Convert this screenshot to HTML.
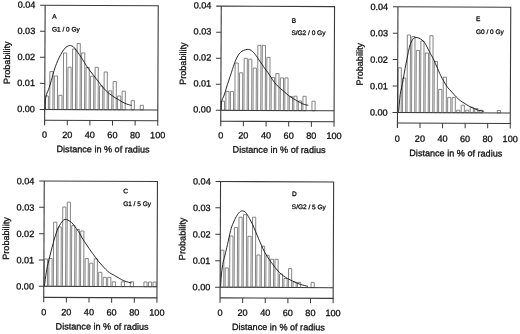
<!DOCTYPE html>
<html><head><meta charset="utf-8">
<style>
html,body{margin:0;padding:0;background:#fff;}
body{width:520px;height:334px;overflow:hidden;}
svg{display:block;will-change:transform;}
text{font-family:"Liberation Sans", sans-serif;fill:#111;stroke:#111;stroke-width:0.3px;}
text.s{stroke-width:0.3px;}
</style></head><body>
<svg width="520" height="334" viewBox="0 0 520 334">
<rect width="520" height="334" fill="#fff"/>
<g transform="rotate(0.250 101.45 62.95)">
<rect x="45.40" y="96.24" width="3.17" height="13.46" fill="#fff" stroke="#777777" stroke-width="0.9"/>
<rect x="49.92" y="71.82" width="3.17" height="37.88" fill="#fff" stroke="#777777" stroke-width="0.9"/>
<rect x="54.45" y="76.20" width="3.17" height="33.50" fill="#fff" stroke="#777777" stroke-width="0.9"/>
<rect x="58.97" y="95.48" width="3.17" height="14.22" fill="#fff" stroke="#777777" stroke-width="0.9"/>
<rect x="63.50" y="53.16" width="3.17" height="56.54" fill="#fff" stroke="#777777" stroke-width="0.9"/>
<rect x="68.02" y="67.34" width="3.17" height="42.36" fill="#fff" stroke="#777777" stroke-width="0.9"/>
<rect x="72.54" y="49.12" width="3.17" height="60.58" fill="#fff" stroke="#777777" stroke-width="0.9"/>
<rect x="77.07" y="43.60" width="3.17" height="66.10" fill="#fff" stroke="#777777" stroke-width="0.9"/>
<rect x="81.59" y="52.98" width="3.17" height="56.72" fill="#fff" stroke="#777777" stroke-width="0.9"/>
<rect x="86.12" y="67.56" width="3.17" height="42.14" fill="#fff" stroke="#777777" stroke-width="0.9"/>
<rect x="90.64" y="76.24" width="3.17" height="33.46" fill="#fff" stroke="#777777" stroke-width="0.9"/>
<rect x="95.16" y="67.32" width="3.17" height="42.38" fill="#fff" stroke="#777777" stroke-width="0.9"/>
<rect x="99.69" y="86.00" width="3.17" height="23.70" fill="#fff" stroke="#777777" stroke-width="0.9"/>
<rect x="104.21" y="71.98" width="3.17" height="37.72" fill="#fff" stroke="#777777" stroke-width="0.9"/>
<rect x="108.74" y="90.86" width="3.17" height="18.84" fill="#fff" stroke="#777777" stroke-width="0.9"/>
<rect x="113.26" y="81.44" width="3.17" height="28.26" fill="#fff" stroke="#777777" stroke-width="0.9"/>
<rect x="117.78" y="95.92" width="3.17" height="13.78" fill="#fff" stroke="#777777" stroke-width="0.9"/>
<rect x="122.31" y="91.10" width="3.17" height="18.60" fill="#fff" stroke="#777777" stroke-width="0.9"/>
<rect x="131.36" y="100.46" width="3.17" height="9.24" fill="#fff" stroke="#777777" stroke-width="0.9"/>
<rect x="140.40" y="105.12" width="3.17" height="4.58" fill="#fff" stroke="#777777" stroke-width="0.9"/>
<path d="M45.40 109.24 C45.41 108.24 45.42 104.99 45.48 103.24 C45.53 101.49 45.56 100.16 45.76 98.74 C45.95 97.33 46.29 95.91 46.64 94.74 C46.98 93.57 47.38 92.90 47.83 91.73 C48.27 90.57 48.83 89.15 49.31 87.73 C49.78 86.31 50.23 84.81 50.69 83.22 C51.15 81.64 51.49 80.30 52.07 78.22 C52.64 76.13 53.38 73.14 54.13 70.71 C54.89 68.27 55.78 65.73 56.60 63.60 C57.43 61.46 58.15 59.77 59.08 57.88 C60.00 56.00 61.11 53.94 62.15 52.27 C63.20 50.60 64.29 48.91 65.33 47.86 C66.38 46.80 67.58 46.30 68.43 45.94 C69.27 45.59 69.64 45.61 70.42 45.74 C71.21 45.87 72.18 45.96 73.13 46.72 C74.08 47.49 75.14 49.01 76.14 50.31 C77.15 51.61 78.06 52.90 79.16 54.50 C80.27 56.09 81.58 58.00 82.79 59.88 C83.99 61.76 85.20 63.94 86.41 65.77 C87.62 67.59 88.83 69.24 90.03 70.85 C91.24 72.46 92.45 73.91 93.65 75.43 C94.86 76.96 96.07 78.46 97.27 80.02 C98.48 81.58 99.69 83.31 100.90 84.80 C102.10 86.30 103.31 87.69 104.51 88.99 C105.72 90.28 106.92 91.53 108.13 92.57 C109.33 93.62 110.55 94.41 111.74 95.26 C112.93 96.10 114.10 96.93 115.25 97.64 C116.40 98.35 117.41 98.78 118.66 99.53 C119.91 100.27 121.37 101.36 122.77 102.11 C124.17 102.85 125.58 103.45 127.08 103.99 C128.58 104.53 131.00 105.14 131.79 105.37" fill="none" stroke="#111" stroke-width="0.9"/>
<path d="M39.90 5.45 H158.00 V120.45 H44.90" fill="none" stroke="#3a3a3a" stroke-width="1.1"/>
<path d="M44.90 5.45 V125.45" fill="none" stroke="#3a3a3a" stroke-width="1.1"/>
<path d="M39.90 109.70 H158.00" fill="none" stroke="#3a3a3a" stroke-width="1.0"/>
<path d="M39.90 83.64 H44.90" stroke="#3a3a3a" stroke-width="1"/>
<path d="M39.90 57.58 H44.90" stroke="#3a3a3a" stroke-width="1"/>
<path d="M39.90 31.51 H44.90" stroke="#3a3a3a" stroke-width="1"/>
<path d="M67.52 120.45 V125.45" stroke="#3a3a3a" stroke-width="1"/>
<path d="M90.14 120.45 V125.45" stroke="#3a3a3a" stroke-width="1"/>
<path d="M112.76 120.45 V125.45" stroke="#3a3a3a" stroke-width="1"/>
<path d="M135.38 120.45 V125.45" stroke="#3a3a3a" stroke-width="1"/>
<path d="M158.00 120.45 V125.45" stroke="#3a3a3a" stroke-width="1"/>
<text x="35.10" y="112.45" text-anchor="end" font-size="9.10">0.00</text>
<text x="35.10" y="86.39" text-anchor="end" font-size="9.10">0.01</text>
<text x="35.10" y="60.33" text-anchor="end" font-size="9.10">0.02</text>
<text x="35.10" y="34.26" text-anchor="end" font-size="9.10">0.03</text>
<text x="35.10" y="8.20" text-anchor="end" font-size="9.10">0.04</text>
<text x="44.90" y="138.10" text-anchor="middle" font-size="9.10">0</text>
<text x="67.52" y="138.10" text-anchor="middle" font-size="9.10">20</text>
<text x="90.14" y="138.10" text-anchor="middle" font-size="9.10">40</text>
<text x="112.76" y="138.10" text-anchor="middle" font-size="9.10">60</text>
<text x="135.38" y="138.10" text-anchor="middle" font-size="9.10">80</text>
<text x="158.00" y="138.10" text-anchor="middle" font-size="9.10">100</text>
<text x="103.40" y="152.30" text-anchor="middle" font-size="9.10">Distance in % of radius</text>
<text transform="translate(6.70 63.05) rotate(-90)" x="0" y="3.28" text-anchor="middle" font-size="9.10">Probability</text>
<text class="s" x="52.00" y="18.70" font-size="6.50">A</text>
<text class="s" x="51.80" y="31.70" font-size="6.50">G1 / 0 Gy</text>
</g>
<g transform="rotate(0.250 277.65 63.95)">
<rect x="221.50" y="101.34" width="3.17" height="9.26" fill="#fff" stroke="#777777" stroke-width="0.9"/>
<rect x="226.03" y="91.62" width="3.17" height="18.98" fill="#fff" stroke="#777777" stroke-width="0.9"/>
<rect x="230.56" y="91.60" width="3.17" height="19.00" fill="#fff" stroke="#777777" stroke-width="0.9"/>
<rect x="235.10" y="63.18" width="3.17" height="47.42" fill="#fff" stroke="#777777" stroke-width="0.9"/>
<rect x="239.63" y="72.96" width="3.17" height="37.64" fill="#fff" stroke="#777777" stroke-width="0.9"/>
<rect x="244.16" y="58.44" width="3.17" height="52.16" fill="#fff" stroke="#777777" stroke-width="0.9"/>
<rect x="248.69" y="59.32" width="3.17" height="51.28" fill="#fff" stroke="#777777" stroke-width="0.9"/>
<rect x="253.22" y="68.20" width="3.17" height="42.40" fill="#fff" stroke="#777777" stroke-width="0.9"/>
<rect x="257.76" y="45.48" width="3.17" height="65.12" fill="#fff" stroke="#777777" stroke-width="0.9"/>
<rect x="262.29" y="45.46" width="3.17" height="65.14" fill="#fff" stroke="#777777" stroke-width="0.9"/>
<rect x="266.82" y="57.44" width="3.17" height="53.16" fill="#fff" stroke="#777777" stroke-width="0.9"/>
<rect x="271.35" y="77.52" width="3.17" height="33.08" fill="#fff" stroke="#777777" stroke-width="0.9"/>
<rect x="275.88" y="73.60" width="3.17" height="37.00" fill="#fff" stroke="#777777" stroke-width="0.9"/>
<rect x="280.42" y="77.88" width="3.17" height="32.72" fill="#fff" stroke="#777777" stroke-width="0.9"/>
<rect x="284.95" y="77.86" width="3.17" height="32.74" fill="#fff" stroke="#777777" stroke-width="0.9"/>
<rect x="289.48" y="96.44" width="3.17" height="14.16" fill="#fff" stroke="#777777" stroke-width="0.9"/>
<rect x="294.01" y="96.12" width="3.17" height="14.48" fill="#fff" stroke="#777777" stroke-width="0.9"/>
<rect x="298.54" y="100.90" width="3.17" height="9.70" fill="#fff" stroke="#777777" stroke-width="0.9"/>
<rect x="303.08" y="96.18" width="3.17" height="14.42" fill="#fff" stroke="#777777" stroke-width="0.9"/>
<rect x="312.14" y="101.04" width="3.17" height="9.56" fill="#fff" stroke="#777777" stroke-width="0.9"/>
<path d="M221.30 109.95 C221.35 109.00 221.47 105.78 221.58 104.25 C221.69 102.71 221.57 102.06 221.96 100.74 C222.35 99.42 223.35 97.85 223.94 96.33 C224.53 94.82 225.06 93.15 225.52 91.63 C225.98 90.11 226.18 88.96 226.70 87.22 C227.23 85.49 227.87 83.67 228.67 81.21 C229.48 78.76 230.85 74.64 231.54 72.50 C232.23 70.36 232.18 70.30 232.82 68.40 C233.46 66.49 234.55 63.15 235.39 61.08 C236.23 59.01 237.04 57.39 237.86 55.97 C238.69 54.55 239.39 53.48 240.35 52.56 C241.31 51.64 242.53 50.95 243.64 50.45 C244.76 49.94 245.99 49.62 247.04 49.53 C248.09 49.45 249.04 49.57 249.94 49.92 C250.84 50.27 251.66 50.95 252.45 51.61 C253.23 52.27 253.87 52.95 254.66 53.90 C255.44 54.85 256.33 56.09 257.17 57.29 C258.01 58.49 258.83 59.83 259.69 61.08 C260.54 62.32 261.45 63.52 262.30 64.77 C263.16 66.01 263.83 67.19 264.82 68.56 C265.81 69.92 267.18 71.45 268.24 72.94 C269.30 74.44 270.14 75.98 271.16 77.53 C272.18 79.07 273.14 80.67 274.38 82.21 C275.62 83.76 277.19 85.44 278.60 86.80 C280.01 88.16 281.41 89.17 282.82 90.38 C284.22 91.59 285.63 92.92 287.03 94.06 C288.44 95.20 289.67 96.20 291.25 97.24 C292.82 98.28 294.54 99.24 296.46 100.32 C298.38 101.39 300.77 102.87 302.77 103.69 C304.78 104.52 307.53 105.00 308.48 105.27" fill="none" stroke="#111" stroke-width="0.9"/>
<path d="M216.00 6.40 H334.30 V121.50 H221.00" fill="none" stroke="#3a3a3a" stroke-width="1.1"/>
<path d="M221.00 6.40 V126.50" fill="none" stroke="#3a3a3a" stroke-width="1.1"/>
<path d="M216.00 110.60 H334.30" fill="none" stroke="#3a3a3a" stroke-width="1.0"/>
<path d="M216.00 84.55 H221.00" stroke="#3a3a3a" stroke-width="1"/>
<path d="M216.00 58.50 H221.00" stroke="#3a3a3a" stroke-width="1"/>
<path d="M216.00 32.45 H221.00" stroke="#3a3a3a" stroke-width="1"/>
<path d="M243.66 121.50 V126.50" stroke="#3a3a3a" stroke-width="1"/>
<path d="M266.32 121.50 V126.50" stroke="#3a3a3a" stroke-width="1"/>
<path d="M288.98 121.50 V126.50" stroke="#3a3a3a" stroke-width="1"/>
<path d="M311.64 121.50 V126.50" stroke="#3a3a3a" stroke-width="1"/>
<path d="M334.30 121.50 V126.50" stroke="#3a3a3a" stroke-width="1"/>
<text x="211.20" y="112.95" text-anchor="end" font-size="9.10">0.00</text>
<text x="211.20" y="86.90" text-anchor="end" font-size="9.10">0.01</text>
<text x="211.20" y="60.85" text-anchor="end" font-size="9.10">0.02</text>
<text x="211.20" y="34.80" text-anchor="end" font-size="9.10">0.03</text>
<text x="211.20" y="8.75" text-anchor="end" font-size="9.10">0.04</text>
<text x="221.00" y="138.65" text-anchor="middle" font-size="9.10">0</text>
<text x="243.66" y="138.65" text-anchor="middle" font-size="9.10">20</text>
<text x="266.32" y="138.65" text-anchor="middle" font-size="9.10">40</text>
<text x="288.98" y="138.65" text-anchor="middle" font-size="9.10">60</text>
<text x="311.64" y="138.65" text-anchor="middle" font-size="9.10">80</text>
<text x="334.30" y="138.65" text-anchor="middle" font-size="9.10">100</text>
<text x="279.50" y="152.80" text-anchor="middle" font-size="9.10">Distance in % of radius</text>
<text transform="translate(182.80 64.00) rotate(-90)" x="0" y="3.28" text-anchor="middle" font-size="9.10">Probability</text>
<text class="s" x="291.70" y="22.60" font-size="6.50">B</text>
<text class="s" x="291.30" y="34.90" font-size="6.50">S/G2 / 0 Gy</text>
</g>
<g transform="rotate(0.250 454.10 65.10)">
<rect x="398.20" y="68.04" width="3.16" height="44.66" fill="#fff" stroke="#777777" stroke-width="0.9"/>
<rect x="402.71" y="78.22" width="3.16" height="34.48" fill="#fff" stroke="#777777" stroke-width="0.9"/>
<rect x="407.22" y="35.20" width="3.16" height="77.50" fill="#fff" stroke="#777777" stroke-width="0.9"/>
<rect x="411.74" y="36.68" width="3.16" height="76.02" fill="#fff" stroke="#777777" stroke-width="0.9"/>
<rect x="416.25" y="50.56" width="3.16" height="62.14" fill="#fff" stroke="#777777" stroke-width="0.9"/>
<rect x="420.76" y="41.14" width="3.16" height="71.56" fill="#fff" stroke="#777777" stroke-width="0.9"/>
<rect x="425.27" y="53.12" width="3.16" height="59.58" fill="#fff" stroke="#777777" stroke-width="0.9"/>
<rect x="429.78" y="35.80" width="3.16" height="76.90" fill="#fff" stroke="#777777" stroke-width="0.9"/>
<rect x="434.30" y="61.58" width="3.16" height="51.12" fill="#fff" stroke="#777777" stroke-width="0.9"/>
<rect x="438.81" y="89.46" width="3.16" height="23.24" fill="#fff" stroke="#777777" stroke-width="0.9"/>
<rect x="443.32" y="77.24" width="3.16" height="35.46" fill="#fff" stroke="#777777" stroke-width="0.9"/>
<rect x="447.83" y="97.42" width="3.16" height="15.28" fill="#fff" stroke="#777777" stroke-width="0.9"/>
<rect x="452.34" y="97.40" width="3.16" height="15.30" fill="#fff" stroke="#777777" stroke-width="0.9"/>
<rect x="456.86" y="110.18" width="3.16" height="2.52" fill="#fff" stroke="#777777" stroke-width="0.9"/>
<rect x="461.37" y="105.16" width="3.16" height="7.54" fill="#fff" stroke="#777777" stroke-width="0.9"/>
<rect x="465.88" y="110.14" width="3.16" height="2.56" fill="#fff" stroke="#777777" stroke-width="0.9"/>
<rect x="470.39" y="107.22" width="3.16" height="5.48" fill="#fff" stroke="#777777" stroke-width="0.9"/>
<rect x="474.90" y="108.40" width="3.16" height="4.30" fill="#fff" stroke="#777777" stroke-width="0.9"/>
<rect x="479.42" y="110.18" width="3.16" height="2.52" fill="#fff" stroke="#777777" stroke-width="0.9"/>
<rect x="497.46" y="110.30" width="3.16" height="2.40" fill="#fff" stroke="#777777" stroke-width="0.9"/>
<path d="M398.80 112.04 C398.93 110.57 399.31 106.11 399.57 103.24 C399.82 100.37 399.97 97.40 400.33 94.83 C400.68 92.27 401.21 90.35 401.70 87.83 C402.19 85.31 402.71 82.86 403.26 79.72 C403.82 76.59 404.41 72.37 405.02 69.01 C405.62 65.66 406.31 62.54 406.88 59.61 C407.45 56.67 407.92 53.83 408.44 51.40 C408.96 48.96 409.34 46.93 410.01 44.99 C410.69 43.06 411.66 41.00 412.49 39.78 C413.32 38.56 413.93 37.93 414.98 37.67 C416.03 37.42 417.63 37.84 418.78 38.25 C419.93 38.67 420.95 39.41 421.89 40.14 C422.83 40.87 423.56 41.48 424.40 42.63 C425.24 43.78 425.96 45.24 426.92 47.02 C427.88 48.80 429.09 51.33 430.15 53.30 C431.21 55.28 432.03 56.35 433.27 58.89 C434.52 61.44 436.40 65.84 437.61 68.57 C438.83 71.30 439.45 73.03 440.54 75.26 C441.64 77.49 442.98 79.92 444.17 81.94 C445.37 83.97 446.37 85.72 447.70 87.43 C449.02 89.14 450.66 90.62 452.12 92.21 C453.58 93.80 455.05 95.60 456.44 96.99 C457.83 98.38 459.17 99.58 460.45 100.57 C461.74 101.57 462.78 102.08 464.17 102.96 C465.55 103.83 467.21 104.96 468.78 105.84 C470.35 106.71 471.99 107.51 473.59 108.22 C475.19 108.93 476.61 109.60 478.40 110.09 C480.18 110.59 483.32 110.99 484.30 111.17" fill="none" stroke="#111" stroke-width="0.9"/>
<path d="M392.70 7.00 H510.50 V123.20 H397.70" fill="none" stroke="#3a3a3a" stroke-width="1.1"/>
<path d="M397.70 7.00 V128.20" fill="none" stroke="#3a3a3a" stroke-width="1.1"/>
<path d="M392.70 112.70 H510.50" fill="none" stroke="#3a3a3a" stroke-width="1.0"/>
<path d="M392.70 86.28 H397.70" stroke="#3a3a3a" stroke-width="1"/>
<path d="M392.70 59.85 H397.70" stroke="#3a3a3a" stroke-width="1"/>
<path d="M392.70 33.42 H397.70" stroke="#3a3a3a" stroke-width="1"/>
<path d="M420.26 123.20 V128.20" stroke="#3a3a3a" stroke-width="1"/>
<path d="M442.82 123.20 V128.20" stroke="#3a3a3a" stroke-width="1"/>
<path d="M465.38 123.20 V128.20" stroke="#3a3a3a" stroke-width="1"/>
<path d="M487.94 123.20 V128.20" stroke="#3a3a3a" stroke-width="1"/>
<path d="M510.50 123.20 V128.20" stroke="#3a3a3a" stroke-width="1"/>
<text x="387.90" y="115.95" text-anchor="end" font-size="9.10">0.00</text>
<text x="387.90" y="89.53" text-anchor="end" font-size="9.10">0.01</text>
<text x="387.90" y="63.10" text-anchor="end" font-size="9.10">0.02</text>
<text x="387.90" y="36.67" text-anchor="end" font-size="9.10">0.03</text>
<text x="387.90" y="10.25" text-anchor="end" font-size="9.10">0.04</text>
<text x="397.70" y="141.90" text-anchor="middle" font-size="9.10">0</text>
<text x="420.26" y="141.90" text-anchor="middle" font-size="9.10">20</text>
<text x="442.82" y="141.90" text-anchor="middle" font-size="9.10">40</text>
<text x="465.38" y="141.90" text-anchor="middle" font-size="9.10">60</text>
<text x="487.94" y="141.90" text-anchor="middle" font-size="9.10">80</text>
<text x="510.50" y="141.90" text-anchor="middle" font-size="9.10">100</text>
<text x="456.20" y="156.30" text-anchor="middle" font-size="9.10">Distance in % of radius</text>
<text transform="translate(359.50 64.60) rotate(-90)" x="0" y="3.28" text-anchor="middle" font-size="9.10">Probability</text>
<text class="s" x="475.90" y="21.00" font-size="6.50">E</text>
<text class="s" x="475.90" y="33.80" font-size="6.50">G0 / 0 Gy</text>
</g>
<g transform="rotate(0.250 100.60 239.45)">
<rect x="44.50" y="259.24" width="3.17" height="27.26" fill="#fff" stroke="#777777" stroke-width="0.9"/>
<rect x="49.03" y="258.72" width="3.17" height="27.78" fill="#fff" stroke="#777777" stroke-width="0.9"/>
<rect x="53.56" y="222.40" width="3.17" height="64.10" fill="#fff" stroke="#777777" stroke-width="0.9"/>
<rect x="58.08" y="227.18" width="3.17" height="59.32" fill="#fff" stroke="#777777" stroke-width="0.9"/>
<rect x="62.61" y="207.16" width="3.17" height="79.34" fill="#fff" stroke="#777777" stroke-width="0.9"/>
<rect x="67.14" y="202.34" width="3.17" height="84.16" fill="#fff" stroke="#777777" stroke-width="0.9"/>
<rect x="71.67" y="225.72" width="3.17" height="60.78" fill="#fff" stroke="#777777" stroke-width="0.9"/>
<rect x="76.20" y="229.60" width="3.17" height="56.90" fill="#fff" stroke="#777777" stroke-width="0.9"/>
<rect x="80.72" y="231.08" width="3.17" height="55.42" fill="#fff" stroke="#777777" stroke-width="0.9"/>
<rect x="85.25" y="258.66" width="3.17" height="27.84" fill="#fff" stroke="#777777" stroke-width="0.9"/>
<rect x="89.78" y="263.24" width="3.17" height="23.26" fill="#fff" stroke="#777777" stroke-width="0.9"/>
<rect x="94.31" y="258.92" width="3.17" height="27.58" fill="#fff" stroke="#777777" stroke-width="0.9"/>
<rect x="98.84" y="272.30" width="3.17" height="14.20" fill="#fff" stroke="#777777" stroke-width="0.9"/>
<rect x="103.36" y="277.28" width="3.17" height="9.22" fill="#fff" stroke="#777777" stroke-width="0.9"/>
<rect x="107.89" y="277.26" width="3.17" height="9.24" fill="#fff" stroke="#777777" stroke-width="0.9"/>
<rect x="112.42" y="281.74" width="3.17" height="4.76" fill="#fff" stroke="#777777" stroke-width="0.9"/>
<rect x="121.48" y="281.70" width="3.17" height="4.80" fill="#fff" stroke="#777777" stroke-width="0.9"/>
<rect x="130.53" y="281.66" width="3.17" height="4.84" fill="#fff" stroke="#777777" stroke-width="0.9"/>
<rect x="144.12" y="281.80" width="3.17" height="4.70" fill="#fff" stroke="#777777" stroke-width="0.9"/>
<rect x="148.64" y="281.78" width="3.17" height="4.72" fill="#fff" stroke="#777777" stroke-width="0.9"/>
<rect x="153.17" y="281.76" width="3.17" height="4.74" fill="#fff" stroke="#777777" stroke-width="0.9"/>
<path d="M44.60 286.24 C44.75 285.16 45.17 282.08 45.48 279.74 C45.78 277.41 46.12 274.37 46.44 272.24 C46.77 270.10 46.98 268.98 47.42 266.93 C47.86 264.88 48.50 262.38 49.09 259.92 C49.68 257.47 50.23 255.09 50.96 252.22 C51.68 249.35 52.59 245.73 53.41 242.71 C54.23 239.69 55.07 236.55 55.88 234.10 C56.68 231.64 57.44 229.74 58.25 227.98 C59.06 226.23 60.00 224.71 60.73 223.57 C61.46 222.44 61.92 221.85 62.62 221.17 C63.32 220.48 64.03 219.61 64.91 219.46 C65.80 219.30 66.81 219.70 67.92 220.24 C69.02 220.79 70.49 221.83 71.53 222.73 C72.56 223.62 73.35 224.64 74.14 225.62 C74.93 226.60 75.53 227.61 76.25 228.61 C76.97 229.60 77.74 230.50 78.47 231.60 C79.19 232.69 79.86 233.94 80.58 235.19 C81.30 236.43 81.89 237.61 82.80 239.08 C83.70 240.54 84.95 242.35 86.02 243.96 C87.09 245.58 88.15 247.19 89.24 248.75 C90.33 250.31 91.50 251.91 92.56 253.34 C93.62 254.76 94.57 255.99 95.58 257.32 C96.58 258.65 97.54 260.01 98.60 261.31 C99.65 262.60 100.71 263.77 101.91 265.09 C103.12 266.42 104.54 268.02 105.83 269.28 C107.12 270.54 108.21 271.65 109.64 272.66 C111.08 273.67 112.85 274.43 114.46 275.34 C116.06 276.25 117.66 277.23 119.27 278.12 C120.87 279.01 122.48 280.02 124.08 280.70 C125.68 281.37 127.62 281.85 128.89 282.18 C130.15 282.50 131.22 282.58 131.69 282.66" fill="none" stroke="#111" stroke-width="0.9"/>
<path d="M39.00 181.30 H157.20 V297.60 H44.00" fill="none" stroke="#3a3a3a" stroke-width="1.1"/>
<path d="M44.00 181.30 V302.60" fill="none" stroke="#3a3a3a" stroke-width="1.1"/>
<path d="M39.00 286.50 H157.20" fill="none" stroke="#3a3a3a" stroke-width="1.0"/>
<path d="M39.00 260.20 H44.00" stroke="#3a3a3a" stroke-width="1"/>
<path d="M39.00 233.90 H44.00" stroke="#3a3a3a" stroke-width="1"/>
<path d="M39.00 207.60 H44.00" stroke="#3a3a3a" stroke-width="1"/>
<path d="M66.64 297.60 V302.60" stroke="#3a3a3a" stroke-width="1"/>
<path d="M89.28 297.60 V302.60" stroke="#3a3a3a" stroke-width="1"/>
<path d="M111.92 297.60 V302.60" stroke="#3a3a3a" stroke-width="1"/>
<path d="M134.56 297.60 V302.60" stroke="#3a3a3a" stroke-width="1"/>
<path d="M157.20 297.60 V302.60" stroke="#3a3a3a" stroke-width="1"/>
<text x="34.20" y="289.85" text-anchor="end" font-size="9.10">0.00</text>
<text x="34.20" y="263.55" text-anchor="end" font-size="9.10">0.01</text>
<text x="34.20" y="237.25" text-anchor="end" font-size="9.10">0.02</text>
<text x="34.20" y="210.95" text-anchor="end" font-size="9.10">0.03</text>
<text x="34.20" y="184.65" text-anchor="end" font-size="9.10">0.04</text>
<text x="44.00" y="315.40" text-anchor="middle" font-size="9.10">0</text>
<text x="66.64" y="315.40" text-anchor="middle" font-size="9.10">20</text>
<text x="89.28" y="315.40" text-anchor="middle" font-size="9.10">40</text>
<text x="111.92" y="315.40" text-anchor="middle" font-size="9.10">60</text>
<text x="134.56" y="315.40" text-anchor="middle" font-size="9.10">80</text>
<text x="157.20" y="315.40" text-anchor="middle" font-size="9.10">100</text>
<text x="102.50" y="329.60" text-anchor="middle" font-size="9.10">Distance in % of radius</text>
<text transform="translate(5.80 238.90) rotate(-90)" x="0" y="3.28" text-anchor="middle" font-size="9.10">Probability</text>
<text class="s" x="123.00" y="193.10" font-size="6.50">C</text>
<text class="s" x="123.00" y="205.90" font-size="6.50">G1 / 5 Gy</text>
</g>
<g transform="rotate(0.250 276.85 239.90)">
<rect x="220.80" y="250.44" width="3.17" height="36.96" fill="#fff" stroke="#777777" stroke-width="0.9"/>
<rect x="225.32" y="268.12" width="3.17" height="19.28" fill="#fff" stroke="#777777" stroke-width="0.9"/>
<rect x="229.85" y="236.20" width="3.17" height="51.20" fill="#fff" stroke="#777777" stroke-width="0.9"/>
<rect x="234.37" y="227.58" width="3.17" height="59.82" fill="#fff" stroke="#777777" stroke-width="0.9"/>
<rect x="238.90" y="217.36" width="3.17" height="70.04" fill="#fff" stroke="#777777" stroke-width="0.9"/>
<rect x="243.42" y="214.84" width="3.17" height="72.56" fill="#fff" stroke="#777777" stroke-width="0.9"/>
<rect x="247.94" y="236.42" width="3.17" height="50.98" fill="#fff" stroke="#777777" stroke-width="0.9"/>
<rect x="252.47" y="217.30" width="3.17" height="70.10" fill="#fff" stroke="#777777" stroke-width="0.9"/>
<rect x="256.99" y="255.08" width="3.17" height="32.32" fill="#fff" stroke="#777777" stroke-width="0.9"/>
<rect x="261.52" y="246.26" width="3.17" height="41.14" fill="#fff" stroke="#777777" stroke-width="0.9"/>
<rect x="266.04" y="255.34" width="3.17" height="32.06" fill="#fff" stroke="#777777" stroke-width="0.9"/>
<rect x="270.56" y="259.32" width="3.17" height="28.08" fill="#fff" stroke="#777777" stroke-width="0.9"/>
<rect x="275.09" y="259.30" width="3.17" height="28.10" fill="#fff" stroke="#777777" stroke-width="0.9"/>
<rect x="279.61" y="273.98" width="3.17" height="13.42" fill="#fff" stroke="#777777" stroke-width="0.9"/>
<rect x="284.14" y="278.46" width="3.17" height="8.94" fill="#fff" stroke="#777777" stroke-width="0.9"/>
<rect x="288.66" y="268.54" width="3.17" height="18.86" fill="#fff" stroke="#777777" stroke-width="0.9"/>
<rect x="293.18" y="281.92" width="3.17" height="5.48" fill="#fff" stroke="#777777" stroke-width="0.9"/>
<rect x="297.71" y="282.30" width="3.17" height="5.10" fill="#fff" stroke="#777777" stroke-width="0.9"/>
<rect x="311.28" y="282.24" width="3.17" height="5.16" fill="#fff" stroke="#777777" stroke-width="0.9"/>
<path d="M220.80 286.74 C220.90 285.16 221.03 280.91 221.36 277.24 C221.70 273.57 222.19 268.41 222.81 264.74 C223.43 261.07 224.28 258.56 225.07 255.23 C225.85 251.89 226.60 248.79 227.52 244.72 C228.44 240.64 229.63 234.39 230.56 230.80 C231.49 227.21 232.15 225.59 233.13 223.19 C234.10 220.79 235.31 218.23 236.40 216.38 C237.49 214.52 238.68 212.95 239.68 212.06 C240.67 211.17 241.37 210.94 242.37 211.05 C243.37 211.16 244.54 211.52 245.68 212.74 C246.82 213.95 248.06 216.34 249.21 218.32 C250.35 220.30 251.49 222.43 252.53 224.61 C253.58 226.78 254.45 229.03 255.46 231.39 C256.47 233.76 257.60 236.47 258.59 238.78 C259.59 241.09 260.36 242.96 261.42 245.27 C262.48 247.58 263.68 250.32 264.96 252.65 C266.23 254.98 267.69 257.19 269.08 259.23 C270.48 261.28 271.92 263.09 273.31 264.92 C274.70 266.74 276.06 268.64 277.43 270.20 C278.81 271.76 280.18 273.10 281.55 274.28 C282.92 275.46 284.23 276.35 285.66 277.26 C287.10 278.17 288.50 278.90 290.17 279.74 C291.84 280.58 293.95 281.56 295.69 282.32 C297.42 283.08 298.51 283.64 300.59 284.30 C302.68 284.95 306.93 285.94 308.20 286.26" fill="none" stroke="#111" stroke-width="0.9"/>
<path d="M215.30 181.70 H333.40 V298.10 H220.30" fill="none" stroke="#3a3a3a" stroke-width="1.1"/>
<path d="M220.30 181.70 V303.10" fill="none" stroke="#3a3a3a" stroke-width="1.1"/>
<path d="M215.30 287.40 H333.40" fill="none" stroke="#3a3a3a" stroke-width="1.0"/>
<path d="M215.30 260.97 H220.30" stroke="#3a3a3a" stroke-width="1"/>
<path d="M215.30 234.55 H220.30" stroke="#3a3a3a" stroke-width="1"/>
<path d="M215.30 208.12 H220.30" stroke="#3a3a3a" stroke-width="1"/>
<path d="M242.92 298.10 V303.10" stroke="#3a3a3a" stroke-width="1"/>
<path d="M265.54 298.10 V303.10" stroke="#3a3a3a" stroke-width="1"/>
<path d="M288.16 298.10 V303.10" stroke="#3a3a3a" stroke-width="1"/>
<path d="M310.78 298.10 V303.10" stroke="#3a3a3a" stroke-width="1"/>
<path d="M333.40 298.10 V303.10" stroke="#3a3a3a" stroke-width="1"/>
<text x="210.50" y="290.65" text-anchor="end" font-size="9.10">0.00</text>
<text x="210.50" y="264.22" text-anchor="end" font-size="9.10">0.01</text>
<text x="210.50" y="237.80" text-anchor="end" font-size="9.10">0.02</text>
<text x="210.50" y="211.38" text-anchor="end" font-size="9.10">0.03</text>
<text x="210.50" y="184.95" text-anchor="end" font-size="9.10">0.04</text>
<text x="220.30" y="315.90" text-anchor="middle" font-size="9.10">0</text>
<text x="242.92" y="315.90" text-anchor="middle" font-size="9.10">20</text>
<text x="265.54" y="315.90" text-anchor="middle" font-size="9.10">40</text>
<text x="288.16" y="315.90" text-anchor="middle" font-size="9.10">60</text>
<text x="310.78" y="315.90" text-anchor="middle" font-size="9.10">80</text>
<text x="333.40" y="315.90" text-anchor="middle" font-size="9.10">100</text>
<text x="278.80" y="330.20" text-anchor="middle" font-size="9.10">Distance in % of radius</text>
<text transform="translate(182.10 239.30) rotate(-90)" x="0" y="3.28" text-anchor="middle" font-size="9.10">Probability</text>
<text class="s" x="291.90" y="196.00" font-size="6.50">D</text>
<text class="s" x="291.70" y="209.00" font-size="6.50">S/G2 / 5 Gy</text>
</g>
</svg>
</body></html>
